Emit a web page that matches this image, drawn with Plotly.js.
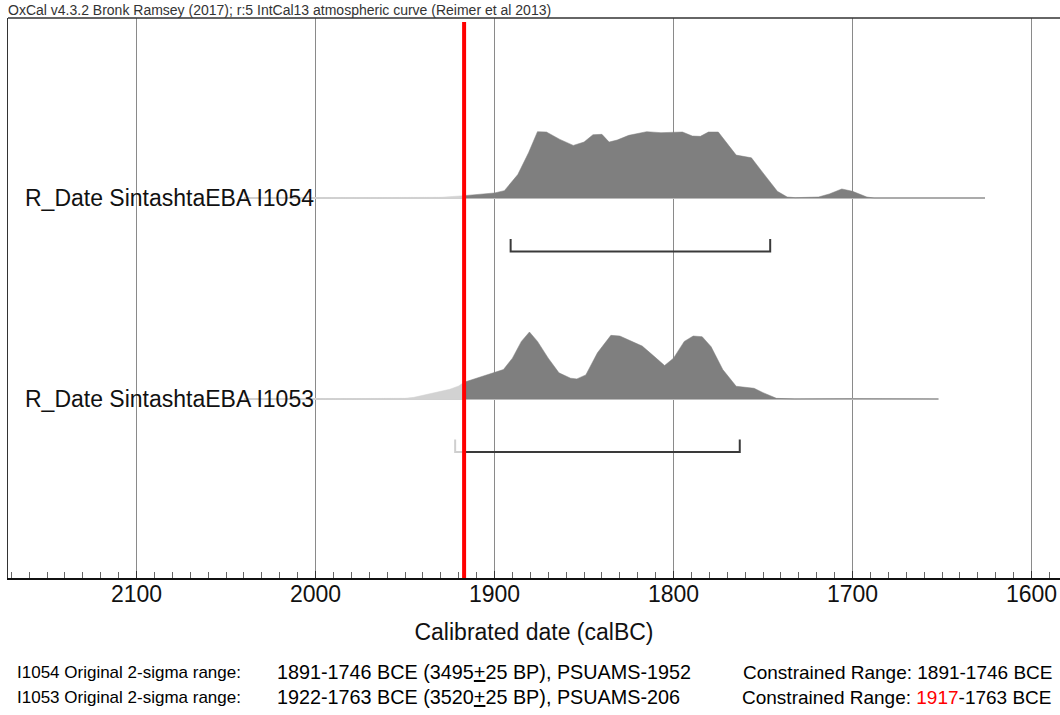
<!DOCTYPE html>
<html>
<head>
<meta charset="utf-8">
<script src="https://cdn.plot.ly/plotly-3.0.1.min.js"></script>
<style>html,body{margin:0;padding:0;background:#fff;}#chart{width:1060px;height:715px;}</style>
</head>
<body>
<div id="chart"></div>
<script>
// ---- data ----
const labels = ['R_Date SintashtaEBA I1054', 'R_Date SintashtaEBA I1053'];
const constraintYear = 1917;
const years1054 = [2040, 1998, 1960, 1930, 1917, 1900, 1894.5, 1887, 1881, 1876, 1871, 1863.5, 1856, 1850, 1845, 1840, 1836, 1831.5, 1825, 1818, 1815, 1807, 1800.5, 1795, 1789.5, 1785, 1780.5, 1775, 1765, 1756.5, 1750, 1742, 1736.5, 1732, 1719, 1713, 1706, 1700, 1692, 1688, 1626];
const dens1054  = [0, 0, 0.003, 0.01, 0.035, 0.075, 0.11, 0.35, 0.675, 0.99, 0.985, 0.875, 0.785, 0.835, 0.945, 0.95, 0.835, 0.865, 0.935, 0.975, 0.99, 0.975, 0.985, 0.985, 0.925, 0.92, 0.985, 0.985, 0.64, 0.60, 0.375, 0.10, 0.015, 0.005, 0.015, 0.06, 0.135, 0.10, 0.015, 0, 0];
const years1053 = [2040, 1998, 1950, 1945, 1935, 1925, 1920, 1917, 1910, 1900, 1895, 1890, 1885, 1880.5, 1876, 1870, 1864, 1857.5, 1854, 1849, 1842.5, 1835, 1830, 1822.5, 1817.5, 1811, 1805, 1800, 1794, 1789, 1784, 1779, 1772.5, 1765, 1755, 1750, 1742.5, 1732.5, 1707.5, 1700, 1652];
const dens1053  = [0, 0, 0.01, 0.025, 0.085, 0.145, 0.195, 0.25, 0.31, 0.39, 0.44, 0.61, 0.86, 1.0, 0.86, 0.61, 0.39, 0.31, 0.30, 0.36, 0.69, 0.95, 0.94, 0.85, 0.79, 0.64, 0.50, 0.61, 0.86, 0.94, 0.93, 0.78, 0.44, 0.19, 0.16, 0.095, 0.01, 0, 0.01, 0.005, 0];
const rangeFrom = [1891, 1922];
const rangeTo   = [1746, 1763];
const xTicks = [2100, 2000, 1900, 1800, 1700, 1600];
const headerText = 'OxCal v4.3.2 Bronk Ramsey (2017); r:5 IntCal13 atmospheric curve (Reimer et al 2013)';
const xTitle = 'Calibrated date (calBC)';
const infoLabel = ['I1054 Original 2-sigma range:', 'I1053 Original 2-sigma range:'];
const infoValue = [
  '1891-1746 BCE (3495<u>+</u>25 BP), PSUAMS-1952',
  '1922-1763 BCE (3520<u>+</u>25 BP), PSUAMS-206'
];
const infoRight = [
  'Constrained Range: 1891-1746 BCE',
  'Constrained Range: <span style="color:#ff0000">1917</span>-1763 BCE'
];

// ---- layout constants (styling / placement) ----
const rowBase = [380, 179];
const bracketY = [326.5, 126];
const bracketTick = 12.5;
const peakScale = 67;
const infoRowsPx = [672, 697];
const DARK = '#7f7f7f', LIGHT = '#d2d2d2', BR_DARK = '#3a3a3a', BR_LIGHT = '#cfcfcf';
const FONT = 'Liberation Sans, Arial, sans-serif';

const series = [[years1054, dens1054], [years1053, dens1053]];
const traces = [];

series.forEach(([yrs, ds], i) => {
  const b = rowBase[i];
  traces.push({x: [yrs[0], yrs[yrs.length - 1]], y: [b, b], mode: 'lines',
    line: {color: '#cfcfcf', width: 2}, hoverinfo: 'skip', showlegend: false});
  const parts = [
    {keep: (yr) => yr >= constraintYear, color: LIGHT},
    {keep: (yr) => yr <= constraintYear, color: DARK}
  ];
  parts.forEach(p => {
    const px = [], py = [];
    yrs.forEach((yr, k) => { if (p.keep(yr)) { px.push(yr); py.push(b + ds[k] * peakScale); } });
    if (px.length < 2) return;
    const polyX = px.concat([px[px.length - 1], px[0]]);
    const polyY = py.concat([b, b]);
    traces.push({x: polyX, y: polyY, mode: 'lines', fill: 'toself', fillcolor: p.color,
      line: {color: p.color, width: 0.5}, hoverinfo: 'skip', showlegend: false});
  });
  const by = bracketY[i], top = by + bracketTick;
  const f = rangeFrom[i], t = rangeTo[i];
  if (f > constraintYear) {
    traces.push({x: [f, f, constraintYear], y: [top, by, by], mode: 'lines',
      line: {color: BR_LIGHT, width: 2}, hoverinfo: 'skip', showlegend: false});
    traces.push({x: [constraintYear, t, t], y: [by, by, top], mode: 'lines',
      line: {color: BR_DARK, width: 2}, hoverinfo: 'skip', showlegend: false});
  } else {
    traces.push({x: [f, f, t, t], y: [top, by, by, top], mode: 'lines',
      line: {color: BR_DARK, width: 2}, hoverinfo: 'skip', showlegend: false});
  }
});

const annotations = [];
labels.forEach((lab, i) => {
  annotations.push({text: lab, xref: 'paper', yref: 'y', x: 15 / 1052, y: rowBase[i],
    xanchor: 'left', yanchor: 'middle', showarrow: false,
    font: {family: FONT, size: 23, color: '#111'}});
});
annotations.push({text: headerText, xref: 'paper', yref: 'paper', x: 0, xshift: -2, y: (578 - 10) / 560,
  xanchor: 'left', yanchor: 'middle', showarrow: false,
  font: {family: FONT, size: 14, color: '#333'}});
infoLabel.forEach((txt, i) => {
  const py = (578 - infoRowsPx[i]) / 560;
  annotations.push({text: txt, xref: 'paper', yref: 'paper', x: 7 / 1052, y: py,
    xanchor: 'left', yanchor: 'middle', showarrow: false,
    font: {family: FONT, size: 17, color: '#000'}});
  annotations.push({text: infoValue[i], xref: 'paper', yref: 'paper', x: 267 / 1052, y: py,
    xanchor: 'left', yanchor: 'middle', showarrow: false,
    font: {family: FONT, size: 19.8, color: '#000'}});
  annotations.push({text: infoRight[i], xref: 'paper', yref: 'paper', x: 1, xshift: -6, y: py,
    xanchor: 'right', yanchor: 'middle', showarrow: false,
    font: {family: FONT, size: 19, color: '#000'}});
});

const layout = {
  width: 1060, height: 715,
  margin: {l: 8, r: 0, t: 18, b: 137, pad: 0},
  paper_bgcolor: '#fff', plot_bgcolor: '#fff',
  showlegend: false,
  xaxis: {
    range: [2171.8, 1584.1], tickvals: xTicks, ticktext: xTicks.map(String),
    ticks: 'inside', ticklen: 7, tickcolor: '#333', tickwidth: 1,
    showgrid: true, gridcolor: '#8a8a8a', gridwidth: 1,
    showline: true, linecolor: '#111', linewidth: 2, zeroline: false,
    tickfont: {family: FONT, size: 23, color: '#111'},
    ticklabelstandoff: -6,
    minor: {dtick: 10, ticks: 'inside', ticklen: 6, tickcolor: '#666', tickwidth: 1, showgrid: false},
    title: {text: xTitle, font: {family: FONT, size: 23, color: '#111'}, standoff: 18},
    automargin: false, fixedrange: true
  },
  yaxis: {
    range: [0, 560], showgrid: false, zeroline: false, showticklabels: false, ticks: '',
    showline: true, linecolor: '#333', linewidth: 1.5, fixedrange: true, automargin: false
  },
  shapes: [
    {type: 'line', xref: 'paper', yref: 'paper', x0: 0, x1: 1, y0: 1, y1: 1, line: {color: '#333', width: 1.5}},
    {type: 'line', xref: 'x', yref: 'y', x0: constraintYear, x1: constraintYear, y0: 0, y1: 556,
      line: {color: '#ff0000', width: 4}}
  ],
  annotations: annotations
};

Plotly.newPlot('chart', traces, layout, {staticPlot: true, displayModeBar: false});
</script>
</body>
</html>
